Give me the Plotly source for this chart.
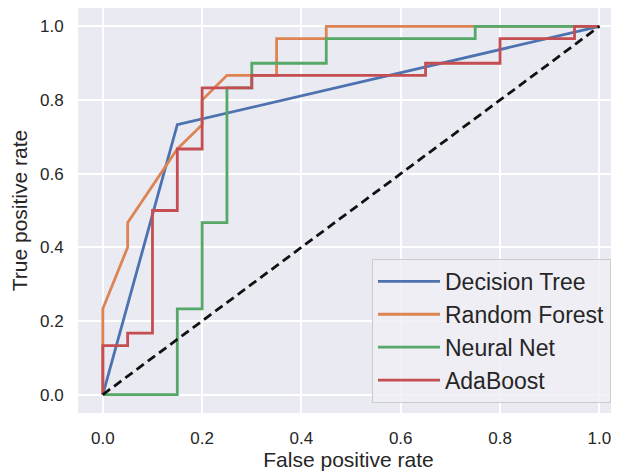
import plotly.graph_objects as go

# ROC curve data (false positive rate, true positive rate)
dt_fpr = [0.0, 0.15, 1.0]
dt_tpr = [0.0, 0.733, 1.0]

rf_fpr = [0.0, 0.0, 0.05, 0.05, 0.15, 0.2, 0.2, 0.25, 0.35, 0.35, 0.45, 0.45, 1.0]
rf_tpr = [0.0, 0.233, 0.4, 0.467, 0.667, 0.733, 0.8, 0.867, 0.867, 0.967, 0.967, 1.0, 1.0]

nn_fpr = [0.0, 0.15, 0.15, 0.2, 0.2, 0.25, 0.25, 0.3, 0.3, 0.45, 0.45, 0.75, 0.75, 1.0]
nn_tpr = [0.0, 0.0, 0.233, 0.233, 0.467, 0.467, 0.833, 0.833, 0.9, 0.9, 0.967, 0.967, 1.0, 1.0]

ab_fpr = [0.0, 0.0, 0.05, 0.05, 0.1, 0.1, 0.15, 0.15, 0.2, 0.2, 0.3, 0.3, 0.65, 0.65, 0.8, 0.8, 0.95, 0.95, 1.0]
ab_tpr = [0.0, 0.133, 0.133, 0.167, 0.167, 0.5, 0.5, 0.667, 0.667, 0.833, 0.833, 0.867, 0.867, 0.9, 0.9, 0.967, 0.967, 1.0, 1.0]

chance_x = [0.0, 1.0]
chance_y = [0.0, 1.0]

x_ticks = [0.0, 0.2, 0.4, 0.6, 0.8, 1.0]
y_ticks = [0.0, 0.2, 0.4, 0.6, 0.8, 1.0]

series = [
    ("Decision Tree", dt_fpr, dt_tpr, "#4c72b0"),
    ("Random Forest", rf_fpr, rf_tpr, "#dd8452"),
    ("Neural Net", nn_fpr, nn_tpr, "#55a868"),
    ("AdaBoost", ab_fpr, ab_tpr, "#c44e52"),
]

FONT = "Liberation Sans, Arial, sans-serif"
TXT = "#262626"

fig = go.Figure()
for name, xs, ys, col in series:
    fig.add_trace(go.Scatter(x=xs, y=ys, mode="lines", name=name,
                             line=dict(color=col, width=2.8)))
fig.add_trace(go.Scatter(x=chance_x, y=chance_y, mode="lines", showlegend=False,
                         line=dict(color="#111111", width=2.8, dash="9px,5px")))

# the page body adds an 8px margin; size the figure so it fills the window
fig.update_layout(
    width=611, height=464,
    margin=dict(l=70, r=0, t=0, b=59, autoexpand=False),
    paper_bgcolor="white",
    plot_bgcolor="#eaeaf2",
    font=dict(family=FONT, color=TXT, size=17),
    legend=dict(
        x=0.5434, y=0.025, xanchor="left", yanchor="bottom",
        bgcolor="rgba(238,238,244,0.85)", bordercolor="#cccccc", borderwidth=1,
        font=dict(size=23, family=FONT, color=TXT),
        traceorder="normal", itemwidth=62,
    ),
)
fig.update_xaxes(
    range=[-0.05, 1.0396], tickvals=x_ticks, tickformat=".1f",
    showgrid=True, gridcolor="white", gridwidth=1.6, zeroline=False,
    ticks="outside", ticklen=10, tickcolor="rgba(0,0,0,0)",
    tickfont=dict(size=17, family=FONT, color=TXT),
    title=dict(text="False positive rate", font=dict(size=21, family=FONT, color=TXT), standoff=4),
    showline=False, automargin=False,
)
fig.update_yaxes(
    range=[-0.05, 1.05], tickvals=y_ticks, tickformat=".1f",
    showgrid=True, gridcolor="white", gridwidth=1.6, zeroline=False,
    ticks="outside", ticklen=10, tickcolor="rgba(0,0,0,0)",
    tickfont=dict(size=17, family=FONT, color=TXT),
    title=dict(text="True positive rate", font=dict(size=21, family=FONT, color=TXT), standoff=9),
    showline=False, automargin=False,
)

fig.write_html("out.html")
